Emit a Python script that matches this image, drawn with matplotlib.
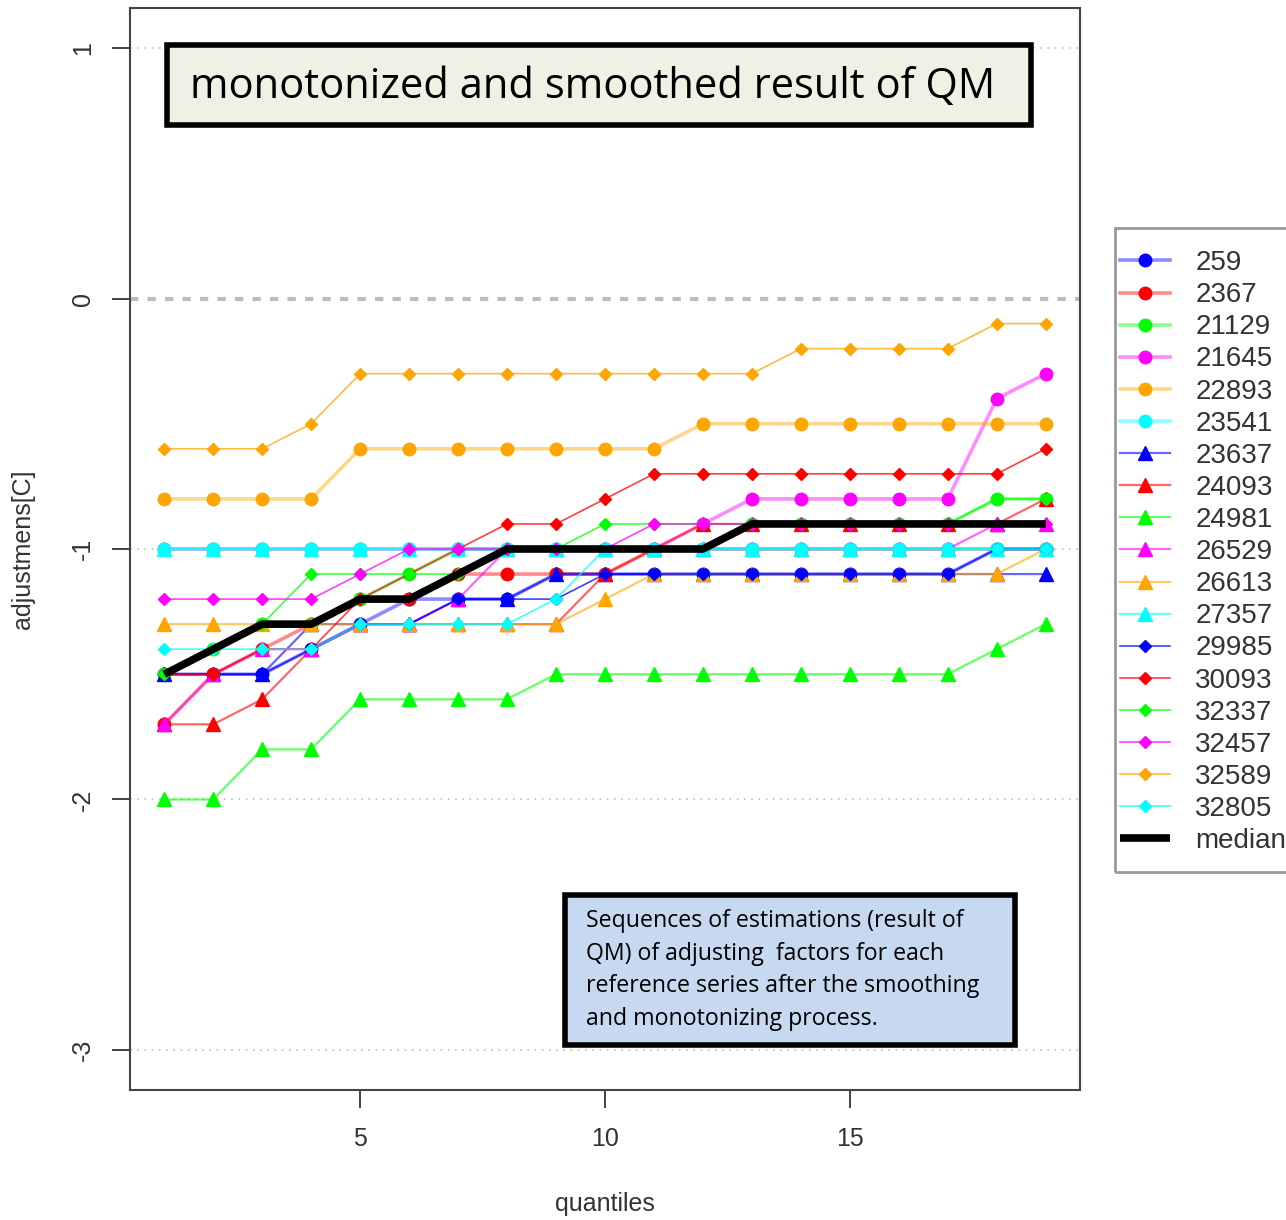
import numpy as np
import matplotlib
matplotlib.use("Agg")
import matplotlib.pyplot as plt
import matplotlib.colors as mcolors
from matplotlib.patches import Rectangle

plt.rcParams['font.family'] = ['Liberation Sans', 'DejaVu Sans']

quantiles = np.arange(1, 20)

stations = ["259", "2367", "21129", "21645", "22893", "23541",
            "23637", "24093", "24981", "26529", "26613", "27357",
            "29985", "30093", "32337", "32457", "32589", "32805"]

s259   = [-1.5, -1.5, -1.5, -1.4, -1.3, -1.2, -1.2, -1.2, -1.1, -1.1, -1.1, -1.1, -1.1, -1.1, -1.1, -1.1, -1.1, -1.0, -1.0]
s2367  = [-1.7, -1.5, -1.4, -1.3, -1.2, -1.2, -1.1, -1.1, -1.1, -1.1, -1.0, -1.0, -1.0, -1.0, -1.0, -1.0, -1.0, -1.0, -1.0]
s21129 = [-1.5, -1.4, -1.3, -1.3, -1.2, -1.1, -1.0, -1.0, -1.0, -1.0, -1.0, -1.0, -0.9, -0.9, -0.9, -0.9, -0.9, -0.8, -0.8]
s21645 = [-1.0, -1.0, -1.0, -1.0, -1.0, -1.0, -1.0, -1.0, -1.0, -1.0, -1.0, -0.9, -0.8, -0.8, -0.8, -0.8, -0.8, -0.4, -0.3]
s22893 = [-0.8, -0.8, -0.8, -0.8, -0.6, -0.6, -0.6, -0.6, -0.6, -0.6, -0.6, -0.5, -0.5, -0.5, -0.5, -0.5, -0.5, -0.5, -0.5]
s23541 = [-1.0, -1.0, -1.0, -1.0, -1.0, -1.0, -1.0, -1.0, -1.0, -1.0, -1.0, -1.0, -1.0, -1.0, -1.0, -1.0, -1.0, -1.0, -1.0]
s23637 = [-1.5, -1.5, -1.5, -1.3, -1.3, -1.3, -1.2, -1.2, -1.1, -1.1, -1.1, -1.1, -1.1, -1.1, -1.1, -1.1, -1.1, -1.1, -1.1]
s24093 = [-1.7, -1.7, -1.6, -1.4, -1.3, -1.3, -1.3, -1.3, -1.3, -1.1, -1.0, -0.9, -0.9, -0.9, -0.9, -0.9, -0.9, -0.9, -0.8]
s24981 = [-2.0, -2.0, -1.8, -1.8, -1.6, -1.6, -1.6, -1.6, -1.5, -1.5, -1.5, -1.5, -1.5, -1.5, -1.5, -1.5, -1.5, -1.4, -1.3]
s26529 = [-1.7, -1.5, -1.4, -1.4, -1.3, -1.3, -1.2, -1.0, -1.0, -1.0, -1.0, -1.0, -1.0, -1.0, -1.0, -1.0, -1.0, -0.9, -0.9]
s26613 = [-1.3, -1.3, -1.3, -1.3, -1.3, -1.3, -1.3, -1.3, -1.3, -1.2, -1.1, -1.1, -1.1, -1.1, -1.1, -1.1, -1.1, -1.1, -1.0]
s27357 = [-1.0, -1.0, -1.0, -1.0, -1.0, -1.0, -1.0, -1.0, -1.0, -1.0, -1.0, -1.0, -1.0, -1.0, -1.0, -1.0, -1.0, -1.0, -1.0]
s29985 = [-1.5, -1.5, -1.5, -1.4, -1.3, -1.3, -1.2, -1.2, -1.2, -1.1, -1.1, -1.1, -1.1, -1.1, -1.1, -1.1, -1.1, -1.0, -1.0]
s30093 = [-1.5, -1.5, -1.4, -1.4, -1.2, -1.1, -1.0, -0.9, -0.9, -0.8, -0.7, -0.7, -0.7, -0.7, -0.7, -0.7, -0.7, -0.7, -0.6]
s32337 = [-1.5, -1.4, -1.3, -1.1, -1.1, -1.1, -1.1, -1.0, -1.0, -0.9, -0.9, -0.9, -0.9, -0.9, -0.9, -0.9, -0.9, -0.8, -0.8]
s32457 = [-1.2, -1.2, -1.2, -1.2, -1.1, -1.0, -1.0, -1.0, -1.0, -1.0, -0.9, -0.9, -0.9, -0.9, -0.9, -0.9, -0.9, -0.9, -0.9]
s32589 = [-0.6, -0.6, -0.6, -0.5, -0.3, -0.3, -0.3, -0.3, -0.3, -0.3, -0.3, -0.3, -0.3, -0.2, -0.2, -0.2, -0.2, -0.1, -0.1]
s32805 = [-1.4, -1.4, -1.4, -1.4, -1.3, -1.3, -1.3, -1.3, -1.2, -1.0, -1.0, -1.0, -1.0, -1.0, -1.0, -1.0, -1.0, -1.0, -1.0]

median = [-1.5, -1.4, -1.3, -1.3, -1.2, -1.2, -1.1, -1.0, -1.0, -1.0, -1.0, -1.0, -0.9, -0.9, -0.9, -0.9, -0.9, -0.9, -0.9]

series = [s259, s2367, s21129, s21645, s22893, s23541,
          s23637, s24093, s24981, s26529, s26613, s27357,
          s29985, s30093, s32337, s32457, s32589, s32805]

palette = ["#0000FF", "#FF0000", "#00FF00", "#FF00FF", "#FFA500", "#00FFFF"]
# circles, then triangles, then diamonds (like pch 19 / 17 / 18 in R)
marker_styles = [("o", 9, 2.6, 0.45), ("^", 10, 1.6, 0.6), ("D", 6, 1.2, 0.75)]

W, H = 1286, 1220
fig = plt.figure(figsize=(W / 100, H / 100), dpi=100)
ax = fig.add_axes([130 / W, 1 - 1090 / H, 950 / W, 1082 / H])

# reference lines
for yv in [1, -1, -2, -3]:
    ax.axhline(yv, color="#c8c8c8", lw=1.3, ls=(0, (1, 3)), zorder=0)
ax.axhline(0, color="#bdbdbd", lw=3, ls=(0, (2, 2.2)), zorder=0)

for i, (name, vals) in enumerate(zip(stations, series)):
    col = palette[i % 6]
    mk, ms, lw, alpha = marker_styles[i // 6]
    rgba = mcolors.to_rgba(col, alpha)
    ax.plot(quantiles, vals, color=rgba, lw=lw, marker=mk, ms=ms,
            markerfacecolor=col, markeredgecolor=col, label=name, zorder=2)

ax.plot(quantiles, median, color="black", lw=5.5, label="median",
        solid_capstyle="butt", zorder=3)

ax.set_xlim(0.3, 19.7)
ax.set_ylim(-3.16, 1.16)
ax.set_xticks([5, 10, 15])
ax.set_yticks([-3, -2, -1, 0, 1])
ax.set_yticklabels(["-3", "-2", "-1", "0", "1"], rotation=90, va="center")
ax.tick_params(axis="both", direction="out", length=13, width=1.3,
               labelsize=18, colors="#333333")
ax.tick_params(axis="x", pad=14)
ax.tick_params(axis="y", pad=12)
for sp in ax.spines.values():
    sp.set_color("#444444")
    sp.set_linewidth(1.5)

ax.set_xlabel("quantiles", fontsize=18, color="#333333", labelpad=29)
ax.set_ylabel("adjustmens[C]", fontsize=18, color="#333333", labelpad=26)

# legend outside on the right, frame drawn separately (it runs off the figure edge)
leg = ax.legend(loc="upper left", bbox_to_anchor=(1116 / W, 1 - 246 / H),
                bbox_transform=fig.transFigure, fontsize=20, frameon=False,
                handlelength=1.8, handletextpad=0.9, labelspacing=0.22,
                borderpad=0.15, borderaxespad=0)
for t in leg.get_texts():
    t.set_color("#333333")
fig.patches.append(Rectangle((1115 / W, 1 - 872 / H), 200 / W, 644 / H,
                             transform=fig.transFigure, facecolor="none",
                             edgecolor="#999999", lw=2, zorder=4))

# title box
fig.patches.append(Rectangle((167 / W, 1 - 125 / H), 864 / W, 80 / H,
                             transform=fig.transFigure, facecolor="#EEF2E4",
                             edgecolor="black", lw=4, zorder=5))
fig.text(190 / W, 1 - 87 / H, "monotonized and smoothed result of QM",
         fontsize=30, family="Open Sans", va="center", ha="left", zorder=6)

# note box
fig.patches.append(Rectangle((565 / W, 1 - 1045 / H), 450 / W, 150 / H,
                             transform=fig.transFigure, facecolor="#C6D9F1",
                             edgecolor="black", lw=4, zorder=5))
note = ("Sequences of estimations (result of\n"
        "QM) of adjusting  factors for each\n"
        "reference series after the smoothing\n"
        "and monotonizing process.")
fig.text(586 / W, 1 - 970 / H, note, fontsize=16.7, family="Open Sans",
         va="center", ha="left", linespacing=1.475, zorder=6)

fig.savefig("out.png", dpi=100)
